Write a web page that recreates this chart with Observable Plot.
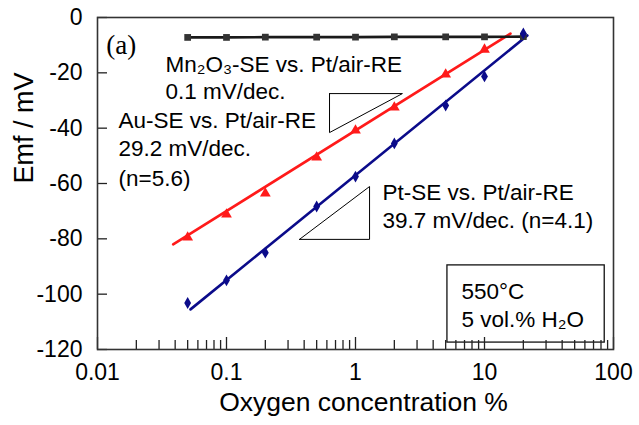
<!DOCTYPE html>
<html><head><meta charset="utf-8">
<script src="https://cdn.jsdelivr.net/npm/d3@7"></script>
<script src="https://cdn.jsdelivr.net/npm/@observablehq/plot@0.6"></script>
<style>html,body{margin:0;padding:0;background:#fff}#chart svg{display:block}</style>
</head><body><div id="chart"></div>
<script>
// ---- data ----
const conc = [0.05, 0.1, 0.2, 0.5, 1, 2, 5, 10, 20];
const mnEmf = [-7.2, -7.2, -7.1, -7.1, -7.1, -7.0, -7.0, -7.0, -6.9];
const auConc = [0.05, 0.1, 0.2, 0.5, 1, 2, 5, 10];
const auEmf = [-79.5, -71.2, -63.6, -50.6, -40.8, -32.5, -20.6, -11.6];
const ptConc = [0.05, 0.1, 0.2, 0.5, 1, 2, 5, 10, 20];
const ptEmf = [-103.2, -95.0, -85.0, -68.3, -57.5, -45.5, -31.8, -21.3, -5.8];
const auFitConc = [0.0386, 15.9];
const auFitEmf = [-82.0, -5.8];
const ptFitConc = [0.0526, 21.5];
const ptFitEmf = [-105.5, -6.5];
const auTriConc = [0.629, 2.31, 0.629, 0.629];
const auTriEmf = [-27.5, -27.5, -41.6, -27.5];
const ptTriConc = [0.368, 1.285, 1.285, 0.368];
const ptTriEmf = [-80.2, -80.2, -61.1, -80.2];
const xTicks = [0.01, 0.1, 1, 10, 100];
const xTickLabels = ["0.01", "0.1", "1", "10", "100"];
const xMinorTicks = [0.02,0.03,0.04,0.05,0.06,0.07,0.08,0.09,
                     0.2,0.3,0.4,0.5,0.6,0.7,0.8,0.9,
                     2,3,4,5,6,7,8,9,
                     20,30,40,50,60,70,80,90];
const yTicks = [0, -20, -40, -60, -80, -100, -120];
const yTickLabels = ["0", "-20", "-40", "-60", "-80", "-100", "-120"];
const xTitle = "Oxygen concentration %";
const yTitle = "Emf / mV";
const panelLabel = "(a)";
const panelConc = [0.0117];
const panelEmf = [-10.1];
const annoText = ["Mn₂O₃-SE vs. Pt/air-RE", "0.1 mV/dec.", "Au-SE vs. Pt/air-RE", "29.2 mV/dec.", "(n=5.6)",
                  "Pt-SE vs. Pt/air-RE", "39.7 mV/dec. (n=4.1)"];
const annoConc = [0.0336, 0.0336, 0.01456, 0.01456, 0.01456, 1.62, 1.62];
const annoEmf = [-17.0, -27.0, -37.5, -47.6, -58.2, -63.4, -73.4];
const boxConc = [5.16, 85.5];
const boxEmf = [-89.6, -117.5];
const condText = ["550°C", "5 vol.% H₂O"];
const condConc = [6.64, 6.64];
const condEmf = [-99.0, -109.3];

const blue = "#0b0b8a", red = "#ff1a1a", black = "#1a1a1a";
const font = "'Liberation Sans', Arial, sans-serif";

const chart = Plot.plot({
  width: 639, height: 425,
  marginLeft: 97, marginRight: 26, marginTop: 17, marginBottom: 76,
  x: {type: "log", domain: [0.01, 100]},
  y: {domain: [-120, 0]},
  style: {fontFamily: font, fontSize: "22px", color: "#000", background: "#fff"},
  marks: [
    Plot.rect([0], {x1: () => boxConc[0], x2: () => boxConc[1], y1: () => boxEmf[0], y2: () => boxEmf[1], fill: "white", stroke: "#111", strokeWidth: 1.3}),
    Plot.text(condText, {x: (d, i) => condConc[i], y: (d, i) => condEmf[i], text: d => d, textAnchor: "start", fontSize: 22.5, fill: "#000"}),
    Plot.line(auTriConc, {x: d => d, y: (d, i) => auTriEmf[i], stroke: "#000", strokeWidth: 1}),
    Plot.line(ptTriConc, {x: d => d, y: (d, i) => ptTriEmf[i], stroke: "#000", strokeWidth: 1}),
    Plot.line(auFitConc, {x: d => d, y: (d, i) => auFitEmf[i], stroke: red, strokeWidth: 2.6}),
    Plot.line(ptFitConc, {x: d => d, y: (d, i) => ptFitEmf[i], stroke: blue, strokeWidth: 2.6}),
    Plot.line(conc, {x: d => d, y: (d, i) => mnEmf[i], stroke: black, strokeWidth: 2.6}),
    Plot.dot(conc, {x: d => d, y: (d, i) => mnEmf[i], symbol: "square", r: 3.8, fill: "#333", stroke: "none"}),
    Plot.dot(auConc, {x: d => d, y: (d, i) => auEmf[i], symbol: "triangle", r: 4.0, fill: red, stroke: "none"}),
    Plot.dot(ptConc, {x: d => d, y: (d, i) => ptEmf[i], symbol: "diamond", r: 3.6, fill: blue, stroke: "none"}),
    Plot.text(annoText, {x: (d, i) => annoConc[i], y: (d, i) => annoEmf[i], text: d => d, textAnchor: "start", fontSize: 22.5, fill: "#000"}),
    Plot.text([panelLabel], {x: () => panelConc[0], y: () => panelEmf[0], text: d => d, textAnchor: "start", fontSize: 27, fontFamily: "'Liberation Serif', 'Times New Roman', serif", fill: "#000"}),
    Plot.tickY(yTicks, {y: d => d, insetRight: 506, stroke: "#222", strokeWidth: 1.3}),
    Plot.tickX(xTicks, {x: d => d, insetTop: 320, stroke: "#222", strokeWidth: 1.3}),
    Plot.tickX(xMinorTicks, {x: d => d, insetTop: 323, stroke: "#222", strokeWidth: 1.3}),
    Plot.axisY({ticks: yTicks, tickFormat: d => yTickLabels[yTicks.indexOf(d)], tickSize: 0, tickPadding: 15, label: null, fontSize: 23}),
    Plot.axisX({ticks: xTicks, tickFormat: d => xTickLabels[xTicks.indexOf(d)], tickSize: 0, tickPadding: 14, label: null, fontSize: 23}),
    Plot.text([yTitle], {frameAnchor: "left", text: d => d, rotate: -90, dx: -73, fontSize: 27, fill: "#000"}),
    Plot.text([xTitle], {frameAnchor: "bottom", text: d => d, dx: 8, dy: 61, fontSize: 26.5, fill: "#000"}),
    Plot.frame({stroke: "#333", strokeWidth: 1.6})
  ]
});
document.getElementById("chart").appendChild(chart);
</script>
</body></html>
